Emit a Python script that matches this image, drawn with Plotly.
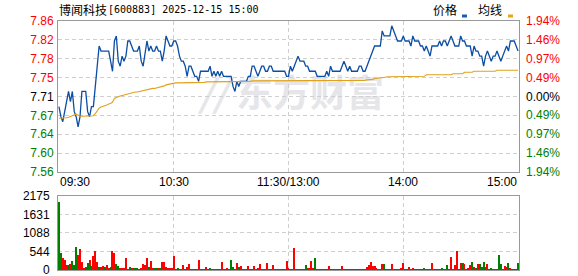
import plotly.graph_objects as go

# ---------------- data ----------------
prev_close = 7.71
minute_idx = list(range(241))  # 09:30 .. 11:30, 13:01 .. 15:00

price = [
    7.69, 7.67, 7.66, 7.68, 7.70, 7.72, 7.70, 7.72, 7.68, 7.67,
    7.65, 7.67, 7.72, 7.72, 7.72, 7.68, 7.67, 7.69, 7.69, 7.73,
    7.77, 7.81, 7.80, 7.80, 7.80, 7.80, 7.80, 7.78, 7.76, 7.82,
    7.83, 7.78, 7.77, 7.79, 7.78, 7.79, 7.82, 7.82, 7.81, 7.80,
    7.80, 7.80, 7.81, 7.78, 7.77, 7.80, 7.82, 7.80, 7.81, 7.80,
    7.80, 7.81, 7.80, 7.80, 7.78, 7.80, 7.83, 7.82, 7.81, 7.81,
    7.82, 7.82, 7.81, 7.79, 7.78, 7.78, 7.77, 7.75, 7.77, 7.77,
    7.76, 7.75, 7.75, 7.74, 7.76, 7.76, 7.76, 7.76, 7.76, 7.77,
    7.75, 7.76, 7.75, 7.76, 7.75, 7.76, 7.75, 7.75, 7.75, 7.75,
    7.75, 7.73, 7.72, 7.74, 7.73, 7.74, 7.74, 7.74, 7.74, 7.75,
    7.75, 7.77, 7.77, 7.76, 7.75, 7.76, 7.77, 7.77, 7.76, 7.76,
    7.77, 7.77, 7.76, 7.76, 7.76, 7.76, 7.76, 7.76, 7.76, 7.75,
    7.75, 7.77, 7.76, 7.77, 7.78, 7.79, 7.78, 7.78, 7.78, 7.77,
    7.77, 7.76, 7.76, 7.76, 7.76, 7.75, 7.75, 7.75, 7.75, 7.75,
    7.76, 7.75, 7.77, 7.76, 7.76, 7.76, 7.76, 7.76, 7.77, 7.78,
    7.77, 7.76, 7.77, 7.76, 7.76, 7.76, 7.76, 7.77, 7.77, 7.76,
    7.76, 7.77, 7.78, 7.79, 7.80, 7.81, 7.81, 7.81, 7.81, 7.84,
    7.83, 7.83, 7.83, 7.83, 7.85, 7.84, 7.83, 7.82, 7.82, 7.82,
    7.83, 7.82, 7.82, 7.82, 7.81, 7.83, 7.82, 7.82, 7.82, 7.81,
    7.81, 7.80, 7.81, 7.80, 7.79, 7.81, 7.81, 7.81, 7.81, 7.82,
    7.81, 7.82, 7.82, 7.81, 7.82, 7.83, 7.82, 7.81, 7.81, 7.81,
    7.83, 7.82, 7.82, 7.81, 7.81, 7.81, 7.79, 7.81, 7.80, 7.80,
    7.79, 7.79, 7.77, 7.79, 7.80, 7.79, 7.78, 7.79, 7.79, 7.80,
    7.79, 7.78, 7.79, 7.80, 7.81, 7.80, 7.82, 7.82, 7.82, 7.81,
    7.80,
]

avg_price = [
    7.667, 7.667, 7.667, 7.668, 7.668, 7.669, 7.670, 7.672, 7.674, 7.675,
    7.673, 7.671, 7.671, 7.671, 7.671, 7.671, 7.671, 7.671, 7.672, 7.676,
    7.683, 7.687, 7.689, 7.690, 7.692, 7.693, 7.695, 7.696, 7.699, 7.706,
    7.708, 7.710, 7.711, 7.712, 7.713, 7.715, 7.716, 7.717, 7.717, 7.718,
    7.719, 7.719, 7.720, 7.720, 7.722, 7.722, 7.724, 7.724, 7.725, 7.726,
    7.726, 7.727, 7.728, 7.728, 7.730, 7.731, 7.733, 7.734, 7.735, 7.736,
    7.737, 7.737, 7.737, 7.737, 7.738, 7.738, 7.738, 7.738, 7.738, 7.738,
    7.738, 7.738, 7.738, 7.738, 7.738, 7.738, 7.738, 7.739, 7.739, 7.739,
    7.739, 7.739, 7.739, 7.739, 7.739, 7.739, 7.740, 7.740, 7.740, 7.740,
    7.740, 7.740, 7.740, 7.740, 7.740, 7.740, 7.740, 7.740, 7.740, 7.740,
    7.740, 7.741, 7.741, 7.741, 7.741, 7.741, 7.741, 7.741, 7.741, 7.741,
    7.741, 7.742, 7.742, 7.742, 7.742, 7.742, 7.742, 7.742, 7.742, 7.742,
    7.742, 7.742, 7.742, 7.742, 7.742, 7.742, 7.742, 7.742, 7.742, 7.742,
    7.742, 7.742, 7.742, 7.742, 7.742, 7.742, 7.742, 7.742, 7.742, 7.742,
    7.742, 7.742, 7.742, 7.742, 7.742, 7.742, 7.742, 7.742, 7.742, 7.742,
    7.742, 7.742, 7.742, 7.742, 7.742, 7.742, 7.742, 7.742, 7.742, 7.742,
    7.742, 7.743, 7.743, 7.744, 7.744, 7.745, 7.746, 7.746, 7.747, 7.747,
    7.748, 7.748, 7.749, 7.749, 7.749, 7.750, 7.750, 7.750, 7.750, 7.750,
    7.750, 7.750, 7.750, 7.750, 7.750, 7.750, 7.750, 7.750, 7.750, 7.750,
    7.750, 7.750, 7.753, 7.753, 7.753, 7.753, 7.753, 7.753, 7.753, 7.753,
    7.753, 7.753, 7.753, 7.753, 7.753, 7.753, 7.755, 7.755, 7.755, 7.755,
    7.755, 7.755, 7.758, 7.758, 7.758, 7.758, 7.758, 7.760, 7.760, 7.760,
    7.760, 7.760, 7.760, 7.760, 7.760, 7.760, 7.760, 7.760, 7.760, 7.762,
    7.762, 7.762, 7.762, 7.762, 7.762, 7.762, 7.762, 7.762, 7.762, 7.762,
    7.762,
]

volume = [
    2000, 490, 363, 294, 147, 147, 176, 265, 147, 676,
    441, 627, 235, 69, 98, 206, 294, 118, 412, 559,
    235, 98, 98, 118, 88, 147, 69, 88, 559, 500,
    176, 118, 30, 30, 59, 353, 20, 88, 30, 30,
    30, 30, 25, 30, 176, 147, 353, 88, 265, 30,
    59, 30, 30, 59, 235, 235, 88, 30, 30, 30,
    412, 25, 69, 25, 25, 147, 25, 98, 186, 25,
    25, 25, 25, 304, 25, 25, 25, 98, 25, 59,
    25, 25, 25, 25, 25, 235, 25, 25, 69, 25,
    294, 98, 25, 206, 98, 127, 25, 25, 25, 118,
    25, 25, 118, 25, 69, 176, 25, 25, 25, 206,
    25, 25, 147, 25, 25, 25, 25, 25, 25, 265,
    59, 25, 25, 647, 25, 25, 25, 25, 25, 147,
    59, 59, 265, 59, 353, 25, 25, 25, 25, 25,
    25, 118, 25, 25, 25, 25, 25, 25, 118, 25,
    25, 25, 25, 25, 25, 25, 25, 25, 25, 25,
    25, 88, 147, 235, 118, 118, 69, 25, 25, 176,
    176, 25, 25, 25, 176, 25, 25, 25, 25, 59,
    206, 25, 25, 88, 25, 59, 25, 25, 25, 25,
    25, 59, 25, 25, 25, 206, 25, 25, 25, 25,
    59, 25, 25, 147, 25, 382, 25, 147, 559, 25,
    206, 206, 176, 25, 59, 147, 235, 88, 59, 176,
    176, 88, 235, 88, 176, 25, 59, 25, 25, 25,
    441, 176, 25, 118, 88, 206, 59, 25, 25, 25,
    206,
]

# "r" = up minute (red), "g" = down minute (green), one letter per minute
volume_dir = list(
    "ggrrrgrggg" "rrrrggrgrr" "rgrrgrrgrr" "ggrrrrrgrr" "gggrrrrgrr"
    "ggrgrrrrrr" "rgggrrrrrg" "gggrrrrrgg" "rggggrrrrr" "ggrrgrrrrr"
    "rrrrrrrrrr" "ggrrrrrrrr" "rggrrrrrrg" "rrrrgrrrrg" "rrrrrrrrrr"
    "rgrrrrrrrr" "rrrrrrrrrr" "grrrrrrrrr" "rrrrrrrrrr" "ggrgrrrrrg"
    "grrgrrrrrr" "rgrrrrgrgr" "gggrrrgrrr" "ggrrrgrrrr" "g"
)

price_tick_labels = ["7.86", "7.82", "7.78", "7.75", "7.71", "7.67", "7.64", "7.60", "7.56"]
pct_tick_labels = ["1.94%", "1.46%", "0.97%", "0.49%", "0.00%", "0.49%", "0.97%", "1.46%", "1.94%"]
vol_tick_vals = [0, 544, 1088, 1631, 2175]
vol_tick_labels = ["0", "544", "1088", "1631", "2175"]
time_labels = ["09:30", "10:30", "11:30/13:00", "14:00", "15:00"]
time_label_idx = [0, 60, 120, 180, 240]

title_name = "博闻科技"
title_rest = "[600883] 2025-12-15 15:00"
legend_labels = ["价格", "均线"]

# ---------------- styling ----------------
W, H = 578, 276
ML, MR, MT, MB = 58, 59, 21, 6
PW, PH = W - ML - MR, H - MT - MB
RED, GREEN, BLACK = "#ff0000", "#008000", "#000000"
PRICE_C, AVG_C = "#0c4ea4", "#e0a21c"
GRID_C, BORDER_C = "#cfcfcf", "#999999"
NUM_FONT = "Liberation Sans, Arial, sans-serif"
CJK_FONT = "Noto Sans CJK SC, sans-serif"
MONO_FONT = "DejaVu Sans Mono, monospace"

def px_x(px):
    return (px - ML) / PW

def px_y(py):
    return (H - MB - py) / PH

price_dom = [px_y(172), 1.0]
vol_dom = [0.0, px_y(196)]

y_lo = prev_close * (1 - 0.0194)
y_hi = prev_close * (1 + 0.0194)
n_ticks = len(price_tick_labels)
price_tick_vals = [y_hi - k * (y_hi - y_lo) / (n_ticks - 1) for k in range(n_ticks)]

def level_color(k):
    mid = (n_ticks - 1) // 2
    if k < mid:
        return RED
    if k > mid:
        return GREEN
    return BLACK

price_ticktext = [
    f'<span style="color:{level_color(k)}">{t}</span>' for k, t in enumerate(price_tick_labels)
]

bar_colors = [RED if d == "r" else GREEN for d in volume_dir]

fig = go.Figure()
fig.add_trace(go.Scatter(
    x=minute_idx, y=price, mode="lines",
    line=dict(color=PRICE_C, width=1.3), xaxis="x", yaxis="y", hoverinfo="skip",
))
fig.add_trace(go.Scatter(
    x=minute_idx, y=avg_price, mode="lines",
    line=dict(color=AVG_C, width=1.1), xaxis="x", yaxis="y", hoverinfo="skip",
))
fig.add_trace(go.Bar(
    x=minute_idx, y=volume, marker=dict(color=bar_colors, line=dict(width=0)),
    width=0.55, xaxis="x2", yaxis="y2", hoverinfo="skip",
))

xaxis_common = dict(
    range=[-0.5, 240.5], tickvals=[60, 120, 180], showticklabels=False,
    showgrid=True, gridcolor=GRID_C, griddash="4px,3px", gridwidth=1,
    showline=True, mirror=True, linecolor=BORDER_C, linewidth=1,
    zeroline=False, ticks="", fixedrange=True, automargin=False,
)
fig.update_layout(
    width=W, height=H,
    margin=dict(l=ML, r=MR, t=MT, b=MB, pad=0, autoexpand=False),
    paper_bgcolor="white", plot_bgcolor="white",
    showlegend=False, bargap=0,
    xaxis=dict(domain=[0, 1], anchor="y", **xaxis_common),
    xaxis2=dict(domain=[0, 1], anchor="y2", **xaxis_common),
    yaxis=dict(
        domain=price_dom, anchor="x", range=[y_lo, y_hi],
        tickvals=price_tick_vals, ticktext=price_ticktext,
        tickfont=dict(family=NUM_FONT, size=12),
        showgrid=True, gridcolor=GRID_C, griddash="4px,3px", gridwidth=1,
        showline=True, mirror=True, linecolor=BORDER_C, linewidth=1,
        zeroline=False, ticks="", ticklabelstandoff=1, automargin=False,
        ticklabeloverflow="allow",
    ),
    yaxis2=dict(
        domain=vol_dom, anchor="x2", range=[0, 2175],
        tickvals=vol_tick_vals, ticktext=vol_tick_labels,
        tickfont=dict(family=NUM_FONT, size=12, color=BLACK),
        showgrid=True, gridcolor=GRID_C, griddash="4px,3px", gridwidth=1,
        showline=True, mirror=True, linecolor=BORDER_C, linewidth=1,
        zeroline=False, ticks="", ticklabelstandoff=5, automargin=False,
        ticklabeloverflow="allow",
    ),
)

ann = []
# right percentage labels
for k, (t, v) in enumerate(zip(pct_tick_labels, price_tick_vals)):
    ann.append(dict(
        xref="paper", yref="y", x=px_x(524), y=v, text=t, showarrow=False,
        xanchor="left", yanchor="middle", font=dict(family=NUM_FONT, size=12, color=level_color(k)),
    ))
# time labels
anchors = ["left", "center", "center", "center", "right"]
for t, i, a in zip(time_labels, time_label_idx, anchors):
    ann.append(dict(
        xref="x", yref="paper", x=(i if a == "center" else (-0.5 if a == "left" else 240.5)),
        y=px_y(182), text=t, showarrow=False, xanchor=a, yanchor="middle",
        font=dict(family=NUM_FONT, size=12, color=BLACK),
    ))
# title
ann.append(dict(xref="paper", yref="paper", x=px_x(57), y=px_y(10), text=title_name,
                showarrow=False, xanchor="left", yanchor="middle",
                font=dict(family=CJK_FONT, size=12, color=BLACK)))
ann.append(dict(xref="paper", yref="paper", x=px_x(106), y=px_y(10), text=title_rest,
                showarrow=False, xanchor="left", yanchor="middle",
                font=dict(family=MONO_FONT, size=10, color=BLACK)))
# legend texts
ann.append(dict(xref="paper", yref="paper", x=px_x(431), y=px_y(10), text=legend_labels[0],
                showarrow=False, xanchor="left", yanchor="middle",
                font=dict(family=CJK_FONT, size=12, color=BLACK)))
ann.append(dict(xref="paper", yref="paper", x=px_x(476), y=px_y(10), text=legend_labels[1],
                showarrow=False, xanchor="left", yanchor="middle",
                font=dict(family=CJK_FONT, size=12, color=BLACK)))

shapes = [
    dict(type="rect", xref="paper", yref="paper", x0=px_x(462), x1=px_x(467),
         y0=px_y(17.5), y1=px_y(14.5), fillcolor="#1d5cb4", line=dict(width=0)),
    dict(type="rect", xref="paper", yref="paper", x0=px_x(508), x1=px_x(513),
         y0=px_y(17.5), y1=px_y(14.5), fillcolor="#e8a31a", line=dict(width=0)),
    # watermark
    dict(type="rect", xref="paper", yref="paper", x0=px_x(198), x1=px_x(385),
         y0=px_y(118), y1=px_y(76), line=dict(width=0), fillcolor="rgba(0,0,0,0)",
         layer="below",
         label=dict(text="<b><i>//</i> 东方财富</b>",
                    font=dict(family=CJK_FONT, size=37, color="#e6e6ea"),
                    textposition="middle center")),
]

fig.update_layout(annotations=ann, shapes=shapes)
fig.write_html("out.html", config={"displayModeBar": False})
